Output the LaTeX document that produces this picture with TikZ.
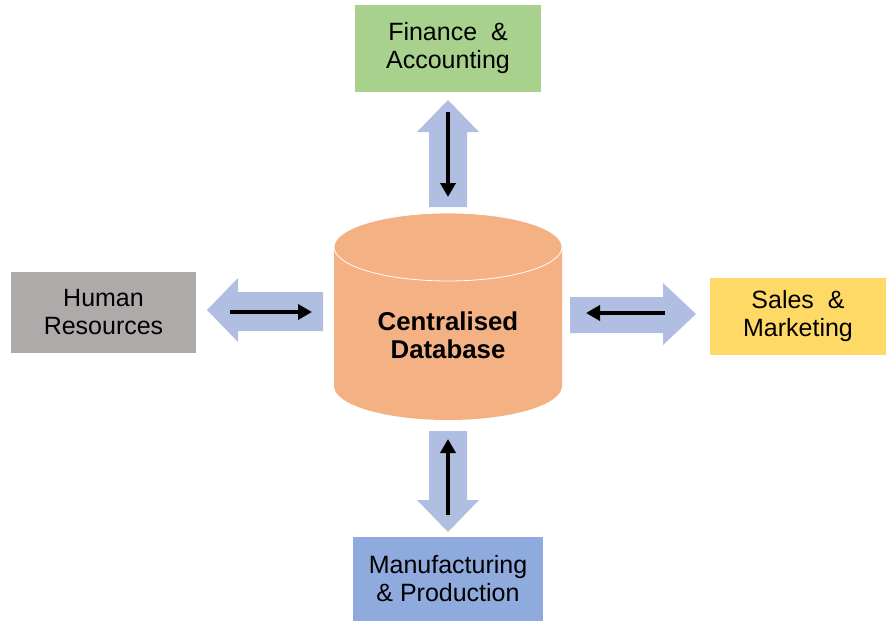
\documentclass[tikz,border=0pt]{standalone}
\usepackage{fontspec}
\setmainfont{Liberation Sans}
\usetikzlibrary{arrows.meta}
\definecolor{fingreen}{HTML}{A9D18E}
\definecolor{hrgray}{HTML}{AEAAAA}
\definecolor{salesyellow}{HTML}{FFD966}
\definecolor{manblue}{HTML}{8FAADC}
\definecolor{dborange}{HTML}{F4B183}
\definecolor{blockblue}{RGB}{176,190,226}
\tikzset{
  dept/.style={inner sep=0pt, align=center, font=\fontsize{25}{28}\selectfont},
  blockarrow/.style={fill=blockblue, draw=none},
  flow/.style={line width=3.6pt, -{Triangle[length=14pt,width=15pt]}}
}
\begin{document}
\begin{tikzpicture}[x=1pt,y=-1pt]
\useasboundingbox (0,0) rectangle (886,621);
% boxes
\node[dept, fill=fingreen, minimum width=186pt, minimum height=87pt] (fin) at (448,48.5) {\raisebox{-2pt}{\parbox{180pt}{\centering Finance \ \&\\Accounting}}};
\node[dept, fill=hrgray, minimum width=185pt, minimum height=81pt] (hr) at (103.5,312.5) {Human\\Resources};
\node[dept, fill=salesyellow, minimum width=176pt, minimum height=77pt] (sales) at (798,316.5) {\raisebox{-1pt}{\parbox{170pt}{\centering Sales \ \&\\Marketing}}};
\node[dept, fill=manblue, minimum width=190pt, minimum height=84pt] (man) at (448,579) {Manufacturing\\\& Production};
% cylinder
\fill[dborange] (334,247) -- (334,386) arc[start angle=180, end angle=0, x radius=114, y radius=34] -- (562,247) -- cycle;
\draw[white, line width=0.8pt, fill=dborange] (448,247) ellipse[x radius=114, y radius=34];
\node[dept, font=\bfseries\fontsize{25.8}{28}\selectfont] (db) at (448,335) {Centralised\\Database};
% block arrows
\fill[blockarrow] (429,207) -- (429,132) -- (417,132) -- (448,100) -- (479,132) -- (467,132) -- (467,207) -- cycle;
\fill[blockarrow] (429,431) -- (429,500) -- (417,500) -- (448,532) -- (479,500) -- (467,500) -- (467,431) -- cycle;
\fill[blockarrow] (323,292) -- (238,292) -- (238,278) -- (207,310) -- (238,342) -- (238,331) -- (323,331) -- cycle;
\fill[blockarrow] (570,297) -- (663,297) -- (663,283) -- (696,314) -- (663,345) -- (663,333) -- (570,333) -- cycle;
% flow arrow endpoints
\coordinate (t1) at (448,112); \coordinate (t2) at (448,197);
\coordinate (l1) at (230,312); \coordinate (l2) at (312,312);
\coordinate (r1) at (665,313); \coordinate (r2) at (586,313);
\coordinate (b1) at (448,515); \coordinate (b2) at (448,439);
\draw[flow] (t1) -- (t2);
\draw[flow] (l1) -- (l2);
\draw[flow] (r1) -- (r2);
\draw[flow] (b1) -- (b2);
\end{tikzpicture}
\end{document}
